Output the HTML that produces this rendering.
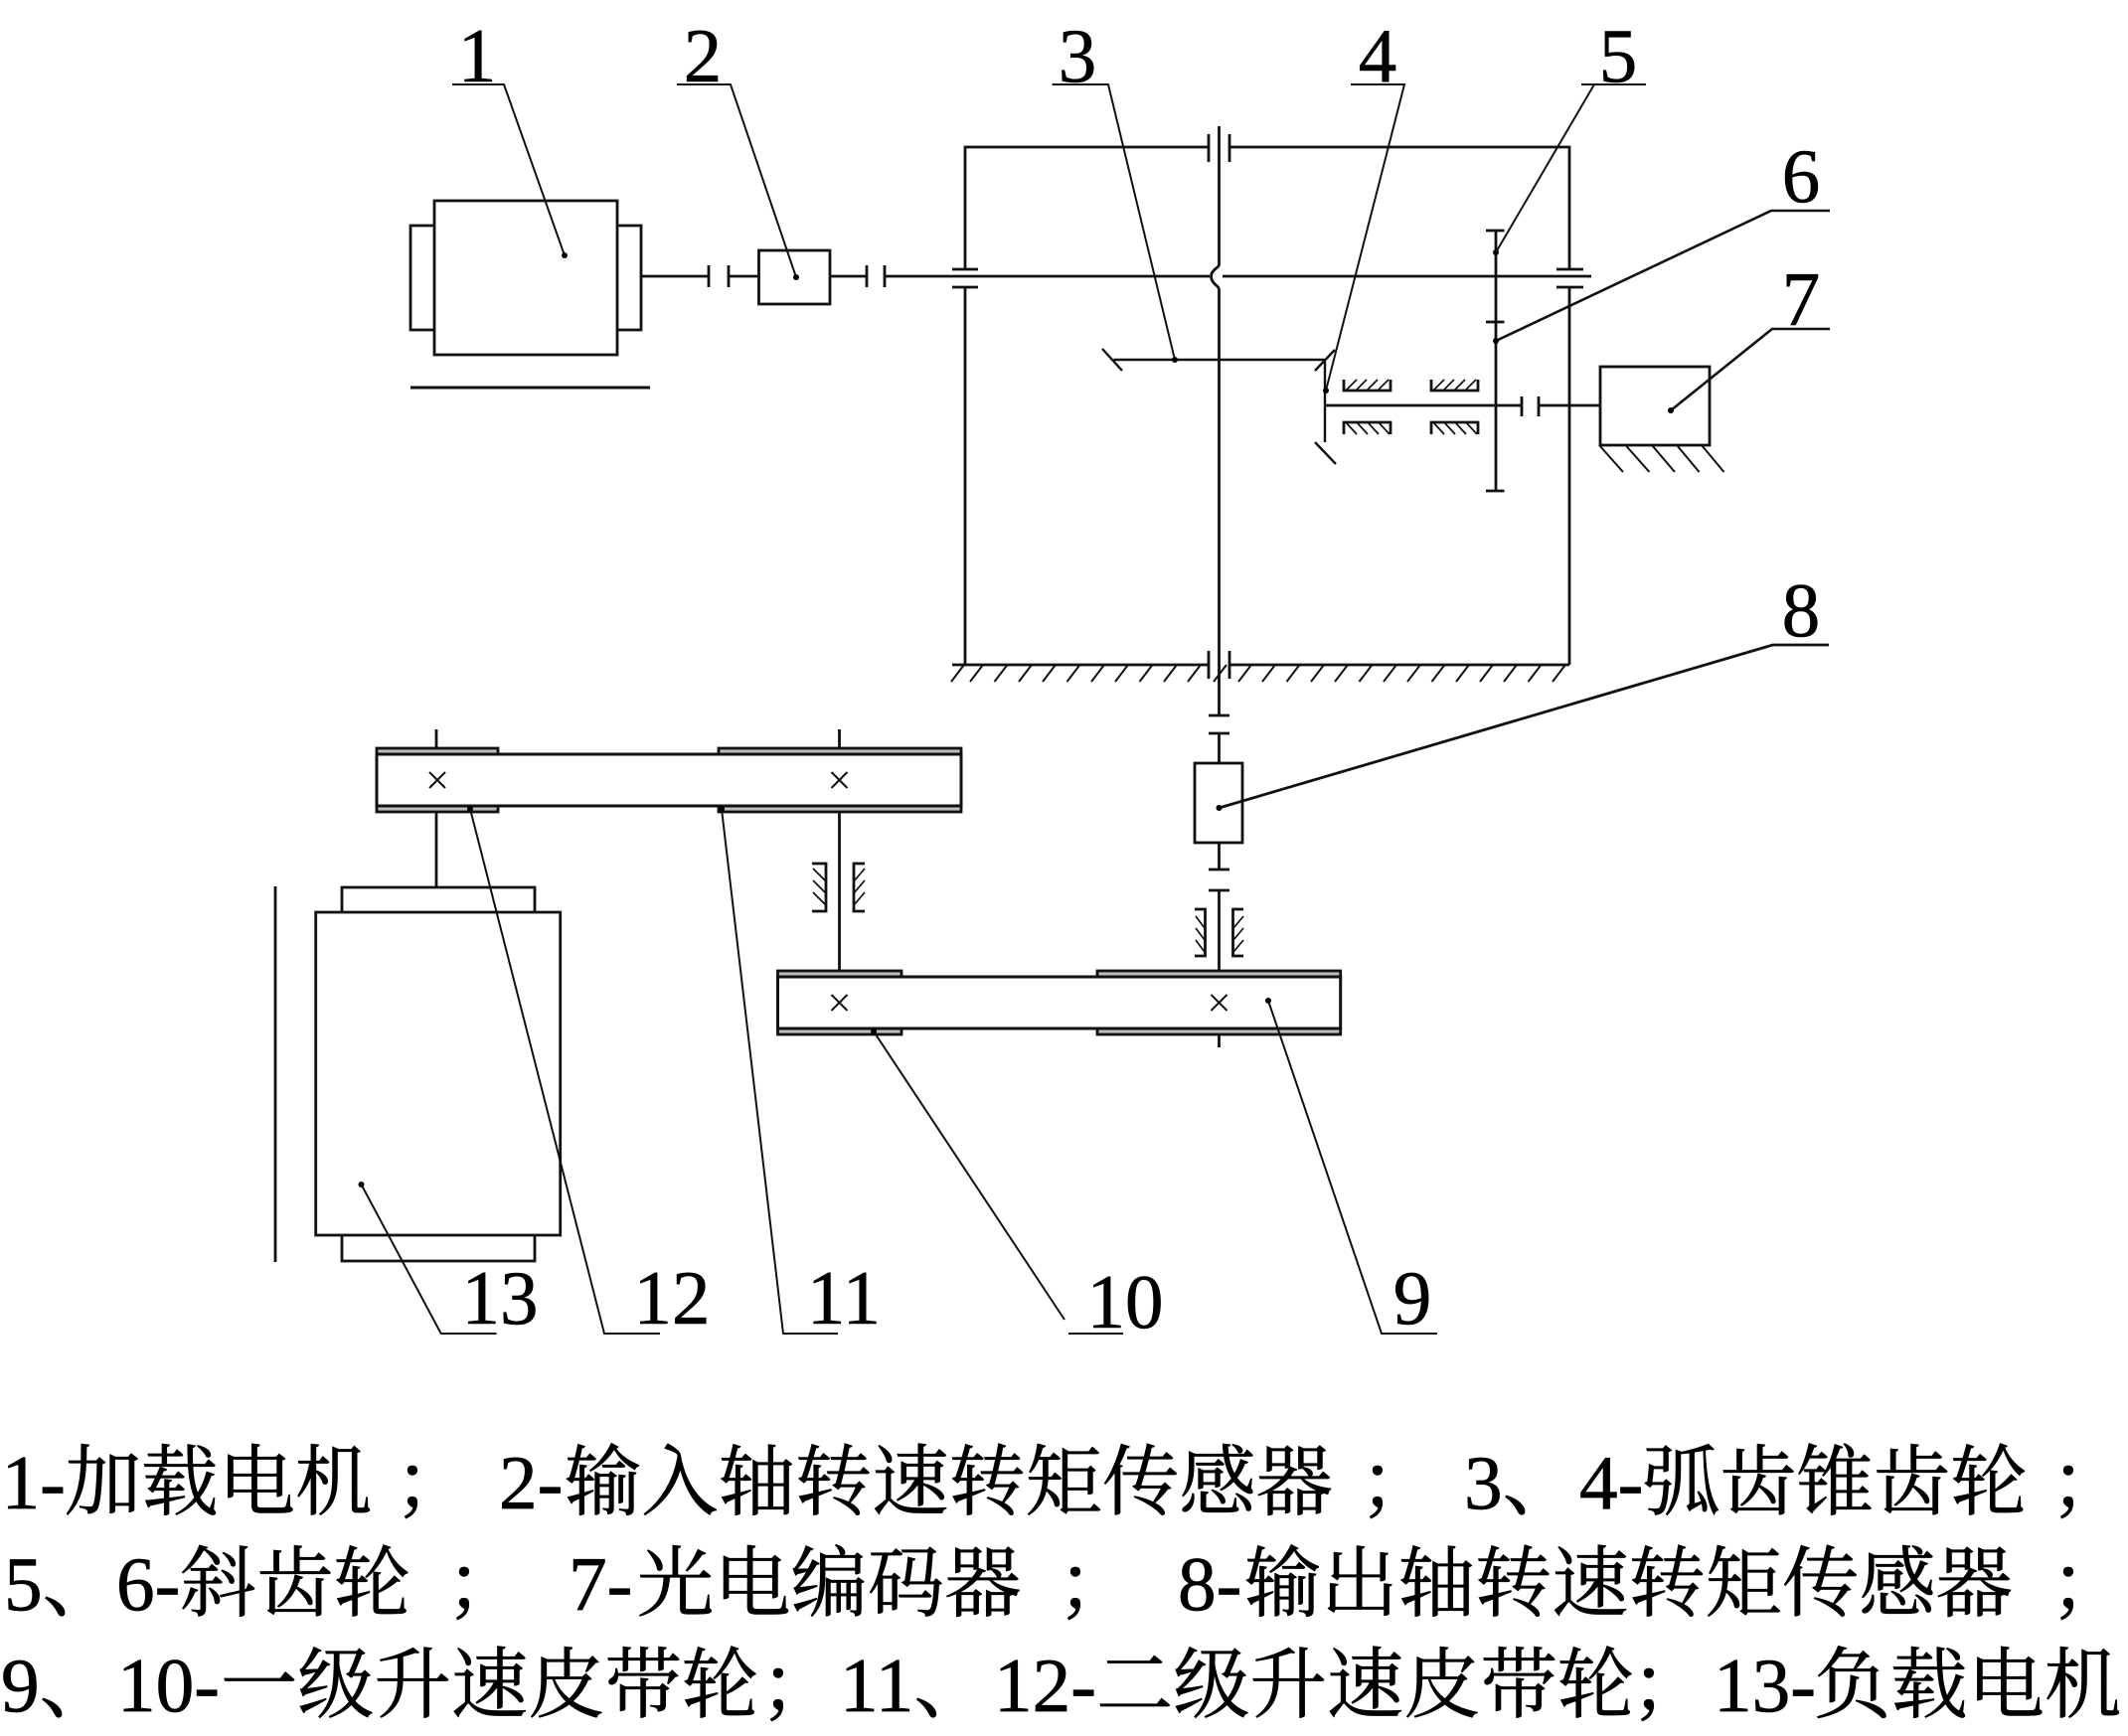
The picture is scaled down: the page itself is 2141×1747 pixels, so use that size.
<!DOCTYPE html>
<html><head><meta charset="utf-8"><style>
html,body{margin:0;padding:0;background:#fff}
svg{display:block}
.n{font-family:"Liberation Serif",serif;font-size:77px;text-anchor:middle;fill:#000;stroke:#000;stroke-width:.6px}
.t{font-family:"Liberation Serif","Noto Serif CJK SC",serif;font-size:77.3px;fill:#000;stroke:#000;stroke-width:.7px}
</style></head><body>
<svg width="2141" height="1747" viewBox="0 0 2141 1747" xmlns="http://www.w3.org/2000/svg">
<rect width="2141" height="1747" fill="#fff"/>
<g fill="none" stroke="#111" stroke-width="2.8">
<!-- motor 1 -->
<rect x="437" y="202" width="184" height="155"/>
<path d="M437 227H413V332H437M621 227H645V332H621"/>
<path d="M413 390H654" stroke-width="3"/>
<!-- input shaft -->
<path d="M645 278H713M733 278H763.5M835 278H872M890 278H1217M1230 278H1601"/>
<path d="M713 267V289M733 267V289M872 267V289M890 267V289"/>
<rect x="763.5" y="252" width="71.5" height="54"/>
<!-- frame -->
<path d="M971 271V148H1216M1237 148H1579V271M958 271H984M958 289H984M971 289V669M1566 271H1593M1566 289H1593M1579 289V669"/>
<path d="M958 669H1216M1237 669H1579"/>
<path d="M1216 135V163M1237 135V163M1216 655V683M1237 655V683"/>
<!-- vertical output shaft -->
<path d="M1226.5 127V266Q1226.5 268 1223.500 270Q1218.500 274 1218.500 278Q1218.500 283 1223.500 287Q1226.500 289 1226.500 292V720"/>
<path d="M1216 720H1237M1216 738H1237M1226.500 738V768M1226.500 848V875M1216 875H1237M1216 896H1237M1226.500 896V976"/>
<rect x="1202" y="768" width="48" height="80"/>
<!-- ground hatch -->
<g stroke-width="2" transform="translate(-2 0)">
<path d="M1577 669L1564 686M1552.500 669L1539.500 686M1528 669L1515 686M1504 669L1491 686M1480 669L1467 686M1455.500 669L1442.500 686M1431 669L1418 686M1407 669L1394 686M1382.500 669L1369.500 686M1358 669L1345 686M1334 669L1321 686M1309.500 669L1296.500 686M1285 669L1272 686M1261 669L1248 686M1236 669L1223 686M1210 669L1197 686M1186 669L1173 686M1161.500 669L1148.500 686M1137 669L1124 686M1113 669L1100 686M1088.500 669L1075.500 686M1064 669L1051 686M1040 669L1027 686M1015.500 669L1002.500 686M991 669L978 686M972 669L959 686"/>
</g>
<!-- bevel gears -->
<path d="M1120.500 362H1333M1109 351L1129 373M1343 352L1323 373M1333 362V445M1323 445L1344 467" stroke-width="2.400"/>
<!-- helical gears -->
<path d="M1505 232V494M1495 232H1513.500M1495 324H1513.500M1495 494H1513.500"/>
<!-- encoder shaft -->
<path d="M1333 408H1531M1548 408H1610M1531 399V419M1548 399V419"/>
<rect x="1610" y="369" width="110" height="79"/>
<path d="M1609 448L1633 475M1635.500 448L1659.400 475M1662 448L1685 475M1687 448L1709.600 475M1712 448L1734.500 475" stroke-width="2"/>
<!-- bearings horizontal -->
<path d="M1352 382V393H1399V382M1440 382V393H1487V382M1352 437V425H1399V437M1440 437V425H1487V437"/>
<path stroke-width="1.700" d="M1354 393L1365 382M1364 393L1375 382M1375 393L1386 382M1386 393L1397 382M1442 393L1453 382M1452 393L1463 382M1463 393L1474 382M1474 393L1485 382M1354 425L1365 437M1365 425L1376 437M1376 425L1387 437M1387 425L1398 437M1442 425L1453 437M1453 425L1464 437M1464 425L1475 437M1475 425L1486 437"/>
<!-- bearings vertical -->
<path d="M1202 915H1212.500V962H1202M1251 915H1240.500V962H1251M817 869H831V917H817M870 869H859V917H870"/>
<path stroke-width="1.700" d="M1203 922L1212 934M1203 934L1212 946M1203 946L1212 958M1251 922L1241 934M1251 934L1241 946M1251 946L1241 958M818 874L831 887M818 886L831 899M818 898L831 911M870 874L859 887M870 886L859 899M870 898L859 911"/>
<!-- upper belt -->
<path d="M439 734V753M844.500 734V753M439 817V893M844.500 817V977"/>
<rect x="379" y="753" width="122" height="6" fill="#bdbdbd"/>
<rect x="723" y="753" width="244" height="6" fill="#bdbdbd"/>
<rect x="379" y="811" width="122" height="6" fill="#bdbdbd"/>
<rect x="723" y="811" width="244" height="6" fill="#bdbdbd"/>
<rect x="379" y="759" width="588" height="52" stroke-width="3"/>
<!-- lower belt -->
<rect x="782.500" y="977" width="124.500" height="6" fill="#bdbdbd"/>
<rect x="1104" y="977" width="244.700" height="6" fill="#bdbdbd"/>
<rect x="782.500" y="1035" width="124.500" height="6" fill="#bdbdbd"/>
<rect x="1104" y="1035" width="244.700" height="6" fill="#bdbdbd"/>
<rect x="782.500" y="983" width="566.200" height="52" stroke-width="3"/>
<path d="M1226.500 1041V1054"/>
<!-- x marks -->
<path stroke-width="2" d="M432 777L448 793M448 777L432 793M836.500 777L852.500 793M852.500 777L836.500 793M836.500 1001L852.500 1017M852.500 1001L836.500 1017M1218.500 1001L1234.500 1017M1234.500 1001L1218.500 1017"/>
<!-- load motor -->
<rect x="317.700" y="918" width="246" height="325"/>
<path d="M344 918V893H538V918M344 1243V1269H538V1243"/>
<path d="M277 892V1270"/>
<!-- leaders -->
<g stroke-width="2">
<path d="M455 85H507L568 257"/>
<path d="M681 85H735L801 279"/>
<path d="M1058.500 85H1115L1182 362"/>
<path d="M1359 85H1413L1334 393"/>
<path d="M1656 85H1591M1604 85L1505 254"/>
<path d="M1841 212H1782L1505 343" stroke-width="2.600"/>
<path d="M1841 331H1783L1681 413" stroke-width="2.600"/>
<path d="M1840 649H1783.600L1226.500 813" stroke-width="2.800"/>
<path d="M1446 1342H1390L1276 1007"/>
<path d="M1130 1342H1075M1071 1328L879 1038"/>
<path d="M843 1342H788L726 814"/>
<path d="M664 1342H608L473 814"/>
<path d="M499.500 1342H443.700L363.500 1192"/>
</g>
</g>
<g fill="#000">
<circle cx="568" cy="257" r="3"/><circle cx="801" cy="279" r="3"/><circle cx="1182" cy="362" r="3"/><circle cx="1334" cy="393" r="3"/><circle cx="1505" cy="254" r="3"/><circle cx="1505" cy="343" r="3"/><circle cx="1681" cy="413" r="3"/><circle cx="1226.500" cy="813" r="3"/><circle cx="1276" cy="1007" r="3"/><circle cx="879" cy="1038" r="3"/><circle cx="726" cy="814" r="3"/><circle cx="473" cy="814" r="3"/><circle cx="363.500" cy="1192" r="3"/>
</g>
<!-- numbers -->
<text class="n" x="480" y="82">1</text>
<text class="n" x="707" y="82">2</text>
<text class="n" x="1084" y="82">3</text>
<text class="n" x="1386" y="82">4</text>
<text class="n" x="1628" y="82">5</text>
<text class="n" x="1812" y="203">6</text>
<text class="n" x="1812" y="327">7</text>
<text class="n" x="1812" y="640">8</text>
<text class="n" x="1421" y="1332">9</text>
<text class="n" x="1132" y="1336">10</text>
<text class="n" x="849" y="1332">11</text>
<text class="n" x="676" y="1332">12</text>
<text class="n" x="503" y="1332">13</text>
<!-- caption -->
<text class="t" x="1.500" y="1518">1-</text><text class="t" x="65" y="1518">加载电机</text><text class="t" x="397" y="1518">；</text>
<text class="t" x="502" y="1518">2-</text><text class="t" x="568" y="1518">输入轴转速转矩传感器</text><text class="t" x="1368" y="1518">；</text>
<text class="t" x="1473" y="1518">3、</text><text class="t" x="1589" y="1518">4-</text><text class="t" x="1653" y="1518">弧齿锥齿轮</text><text class="t" x="2063" y="1518">；</text>
<text class="t" x="4" y="1620">5、</text><text class="t" x="117" y="1620">6-</text><text class="t" x="181" y="1620">斜齿轮</text><text class="t" x="449" y="1620">；</text>
<text class="t" x="572" y="1620">7-</text><text class="t" x="641" y="1620">光电编码器</text><text class="t" x="1064" y="1620">；</text>
<text class="t" x="1185" y="1620">8-</text><text class="t" x="1252" y="1620">输出轴转速转矩传感器</text><text class="t" x="2063" y="1620">；</text>
<text class="t" x="1" y="1722">9、</text><text class="t" x="118" y="1722">10-</text><text class="t" x="222" y="1722">一级升速皮带轮</text><text class="t" x="765" y="1722">；</text>
<text class="t" x="845" y="1722">11、</text><text class="t" x="1000" y="1722">12-</text><text class="t" x="1103" y="1722">二级升速皮带轮</text><text class="t" x="1641" y="1722">；</text>
<text class="t" x="1724" y="1722">13-</text><text class="t" x="1825" y="1722">负载电机</text>
</svg>
</body></html>
